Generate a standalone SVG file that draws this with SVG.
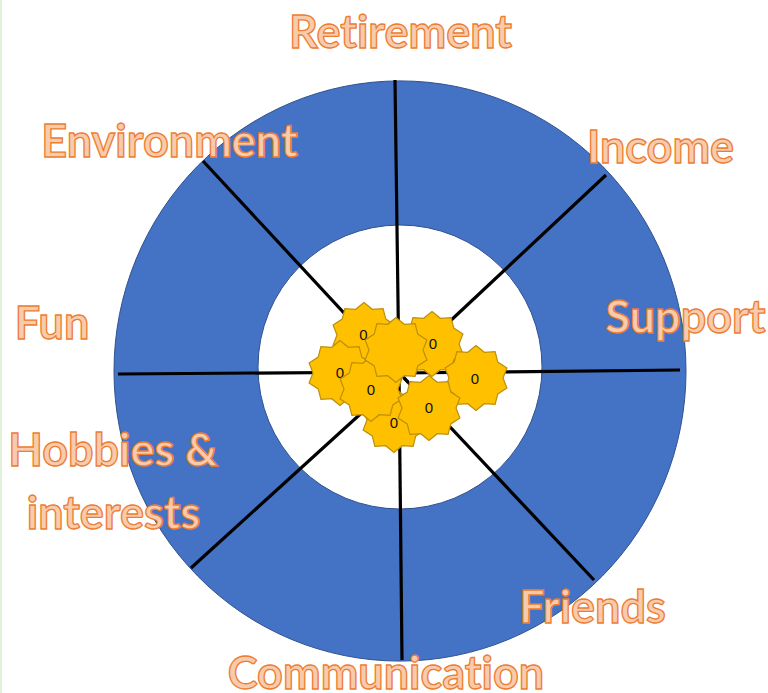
<svg xmlns="http://www.w3.org/2000/svg" width="768" height="693" viewBox="0 0 768 693">
<style>
.lbl{font-family:"Lato","Open Sans","Liberation Sans",sans-serif;font-size:45px;font-weight:700;font-variant-ligatures:none;fill:#f8cbad;stroke:#ed7d31;stroke-width:1.3px;text-anchor:middle}
.zero{font-family:"Liberation Sans",Arial,sans-serif;font-size:15px;fill:#111;text-anchor:middle}
.star{fill:#ffc000;stroke:#bc8f0c;stroke-width:1.2px}
.spoke{stroke:#000;stroke-width:3.2px;fill:none}
</style>
<defs>
<polygon id="seal" points="0,-32.5 8.3,-25.7 19.1,-26.3 21.8,-15.9 30.9,-10 27,0 30.9,10 21.8,15.9 19.1,26.3 8.3,25.7 0,32.5 -8.3,25.7 -19.1,26.3 -21.8,15.9 -30.9,10 -27,0 -30.9,-10 -21.8,-15.9 -19.1,-26.3 -8.3,-25.7"/>
</defs>
<rect width="768" height="693" fill="#fff"/>
<rect x="0" y="0" width="2" height="693" fill="#e2f0d9"/>
<g id="wheel">
<path fill-rule="evenodd" fill="#4472c4" stroke="#2f528f" stroke-width="1" d="M114,371a286,290 0 1,0 572,0a286,290 0 1,0 -572,0ZM258,367a142,142 0 1,0 284,0a142,142 0 1,0 -284,0Z"/>
</g>
<g id="connectors">
<path class="spoke" d="M395,80L399,375"/>
<path class="spoke" d="M606,175L400,368"/>
<path class="spoke" d="M680,370L400,373"/>
<path class="spoke" d="M594,580L404,378"/>
<path class="spoke" d="M402,660L399,375"/>
<path class="spoke" d="M191,568L400,378"/>
<path class="spoke" d="M118,374L400,372"/>
<path class="spoke" d="M203,161L408,382"/>
</g>
<g id="node-low"><use href="#seal" class="star" transform="translate(394,420)"/><text class="zero" x="394" y="428">0</text></g>
<g id="node-topleft"><use href="#seal" class="star" transform="translate(364,335)"/><text class="zero" x="363.5" y="340">0</text></g>
<g id="node-left"><use href="#seal" class="star" transform="translate(340,373)"/><text class="zero" x="340" y="378">0</text></g>
<g id="node-centre"><use href="#seal" class="star" transform="translate(371,389)"/><text class="zero" x="371" y="395">0</text></g>
<g id="node-topright"><use href="#seal" class="star" transform="translate(432,344)"/><text class="zero" x="433" y="349">0</text></g>
<g id="node-right"><use href="#seal" class="star" transform="translate(476,378)"/><text class="zero" x="475" y="384">0</text></g>
<g id="node-lowright"><use href="#seal" class="star" transform="translate(429,408)"/><text class="zero" x="429" y="413">0</text></g>
<g id="node-big"><use href="#seal" class="star" transform="translate(396,350)"/></g>
<g id="labels">
<text class="lbl" x="400.5" y="48">Retirement</text>
<text class="lbl" x="169.5" y="157">Environment</text>
<text class="lbl" x="660.5" y="163">Income</text>
<text class="lbl" x="685.5" y="333">Support</text>
<text class="lbl" x="52" y="339">Fun</text>
<text class="lbl" x="113" y="466">Hobbies &amp;</text>
<text class="lbl" x="113.5" y="529">interests</text>
<text class="lbl" x="592.5" y="623">Friends</text>
<text class="lbl" x="386" y="689">Communication</text>
</g>
</svg>
